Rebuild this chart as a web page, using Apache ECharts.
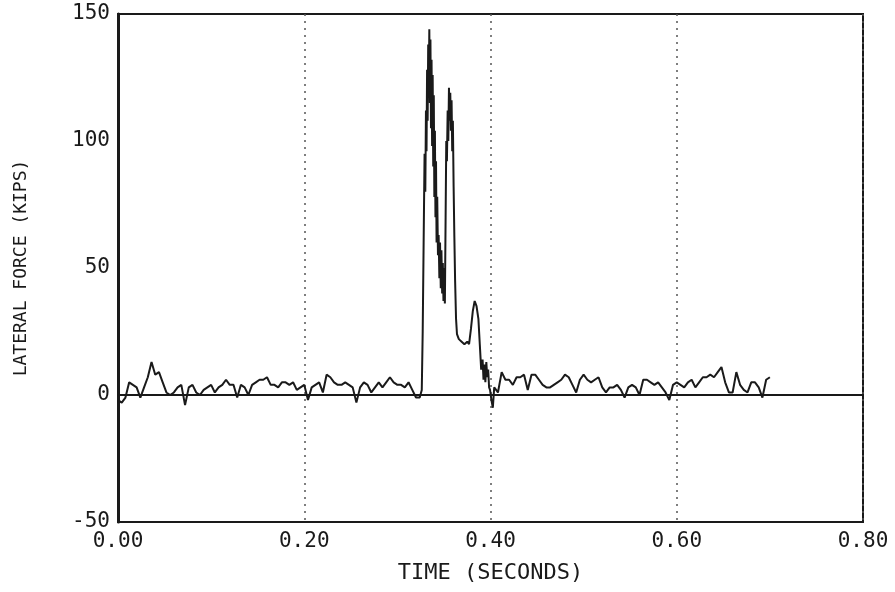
<!DOCTYPE html>
<html>
<head>
<meta charset="utf-8">
<title>Lateral force vs time</title>
<script src="https://cdn.jsdelivr.net/npm/echarts@6/dist/echarts.min.js"></script>
<style>
  html, body { margin: 0; padding: 0; background: #fff; }
  #chart { width: 895px; height: 592px; }
</style>
</head>
<body>
<div id="chart"></div>
<script>
// sample interval of the quiet parts of the record (seconds)
var dt = 0.004;

// before impact, t = 0 .. 0.324 s
var preStart = 0;
var preForces = [
  -2, -3, -1, 5, 4, 3, -1, 3, 7, 13, 8, 9, 5, 1, 0, 1, 3, 4, -4, 3,
  4, 1, 0, 2, 3, 4, 1, 3, 4, 6, 4, 4, -1, 4, 3, 0, 4, 5, 6, 6,
  7, 4, 4, 3, 5, 5, 4, 5, 2, 3, 4, -2, 3, 4, 5, 1, 8, 7, 5, 4,
  4, 5, 4, 3, -3, 3, 5, 4, 1, 3, 5, 3, 5, 7, 5, 4, 4, 3, 5, 2,
  -1, -1
];

// impact, irregular spacing
var hitTimes = [
  0.3262, 0.3272, 0.3282, 0.3292, 0.3300, 0.3307, 0.3313, 0.3319, 0.3325, 0.3331,
  0.3337, 0.3343, 0.3349, 0.3355, 0.3361, 0.3367, 0.3373, 0.3379, 0.3385, 0.3391,
  0.3397, 0.3403, 0.3409, 0.3415, 0.3421, 0.3428, 0.3436, 0.3443, 0.3451, 0.3458,
  0.3466, 0.3473, 0.3481, 0.3488, 0.3495, 0.3502, 0.3510, 0.3518, 0.3525, 0.3532,
  0.3540, 0.3547, 0.3554, 0.3561, 0.3568, 0.3575, 0.3582, 0.3589, 0.3596, 0.3604,
  0.3612, 0.3620, 0.3630, 0.3640, 0.3660, 0.3690, 0.3720, 0.3750, 0.3770, 0.3790,
  0.3810, 0.3830, 0.3850, 0.3870, 0.3885, 0.3900, 0.3915, 0.3925, 0.3935, 0.3945,
  0.3955, 0.3965, 0.3975, 0.3985, 0.3995, 0.4010, 0.4025, 0.4040
];
var hitForces = [
  2, 25, 60, 95, 80, 112, 96, 128, 108, 138,
  120, 144, 115, 140, 105, 132, 98, 126, 90, 118,
  78, 104, 70, 92, 60, 78, 55, 63, 46, 60,
  42, 57, 40, 52, 37, 50, 36, 70, 100, 92,
  112, 100, 121, 108, 119, 104, 116, 96, 108, 82,
  62, 45, 30, 24, 22, 21, 20, 21, 20, 26,
  33, 37, 35, 30, 20, 10, 14, 6, 12, 5,
  13, 7, 10, 3, 2, -2, -5, 3
];

// after impact, t = 0.408 .. 0.70 s
var postStart = 0.408;
var postForces = [
  1, 9, 6, 6, 4, 7, 7, 8, 2, 8, 8, 6, 4, 3, 3, 4, 5, 6, 8, 7,
  4, 1, 6, 8, 6, 5, 6, 7, 3, 1, 3, 3, 4, 2, -1, 3, 4, 3, 0, 6,
  6, 5, 4, 5, 3, 1, -2, 4, 5, 4, 3, 5, 6, 3, 5, 7, 7, 8, 7, 9,
  11, 5, 1, 1, 9, 4, 2, 1, 5, 5, 3, -1, 6, 7
];

var xTicks = [0, 0.2, 0.4, 0.6, 0.8];
var yTicks = [-50, 0, 50, 100, 150];

var points = [];
preForces.forEach(function (v, i) { points.push([preStart + i * dt, v]); });
hitForces.forEach(function (v, i) { points.push([hitTimes[i], v]); });
postForces.forEach(function (v, i) { points.push([postStart + i * dt, v]); });

var ink = '#1a1a1a';
var mono = '"DejaVu Sans Mono", "Liberation Mono", monospace';

var chart = echarts.init(document.getElementById('chart'));
chart.setOption({
  animation: false,
  backgroundColor: '#fff',
  grid: {
    left: 118,
    right: 32,
    top: 14,
    bottom: 70,
    show: true,
    borderColor: ink,
    borderWidth: 2
  },
  xAxis: {
    type: 'value',
    min: xTicks[0],
    max: xTicks[xTicks.length - 1],
    interval: 0.2,
    name: 'TIME (SECONDS)',
    nameLocation: 'middle',
    nameGap: 40,
    nameTextStyle: { fontFamily: mono, fontSize: 22, color: ink },
    axisLine: { show: true, lineStyle: { color: ink, width: 2 } },
    axisTick: { show: false },
    axisLabel: {
      margin: 9,
      fontFamily: mono,
      fontSize: 21,
      color: ink,
      formatter: function (v) { return v.toFixed(2); }
    },
    splitLine: {
      show: true,
      lineStyle: { color: '#555', width: 1.5, type: [2, 5] }
    }
  },
  yAxis: {
    type: 'value',
    min: yTicks[0],
    max: yTicks[yTicks.length - 1],
    interval: 50,
    name: 'LATERAL FORCE (KIPS)',
    nameLocation: 'middle',
    nameGap: 88,
    nameTextStyle: { fontFamily: mono, fontSize: 18, color: ink },
    axisLine: { show: true, lineStyle: { color: ink, width: 3 } },
    axisTick: { show: false },
    axisLabel: { margin: 8, fontFamily: mono, fontSize: 21, color: ink },
    splitLine: { show: false }
  },
  series: [{
    type: 'line',
    data: points,
    showSymbol: false,
    lineStyle: { color: ink, width: 2 },
    markLine: {
      silent: true,
      symbol: 'none',
      label: { show: false },
      lineStyle: { color: ink, width: 1.5, type: 'solid' },
      data: [{ yAxis: 0 }]
    }
  }]
});
</script>
</body>
</html>
